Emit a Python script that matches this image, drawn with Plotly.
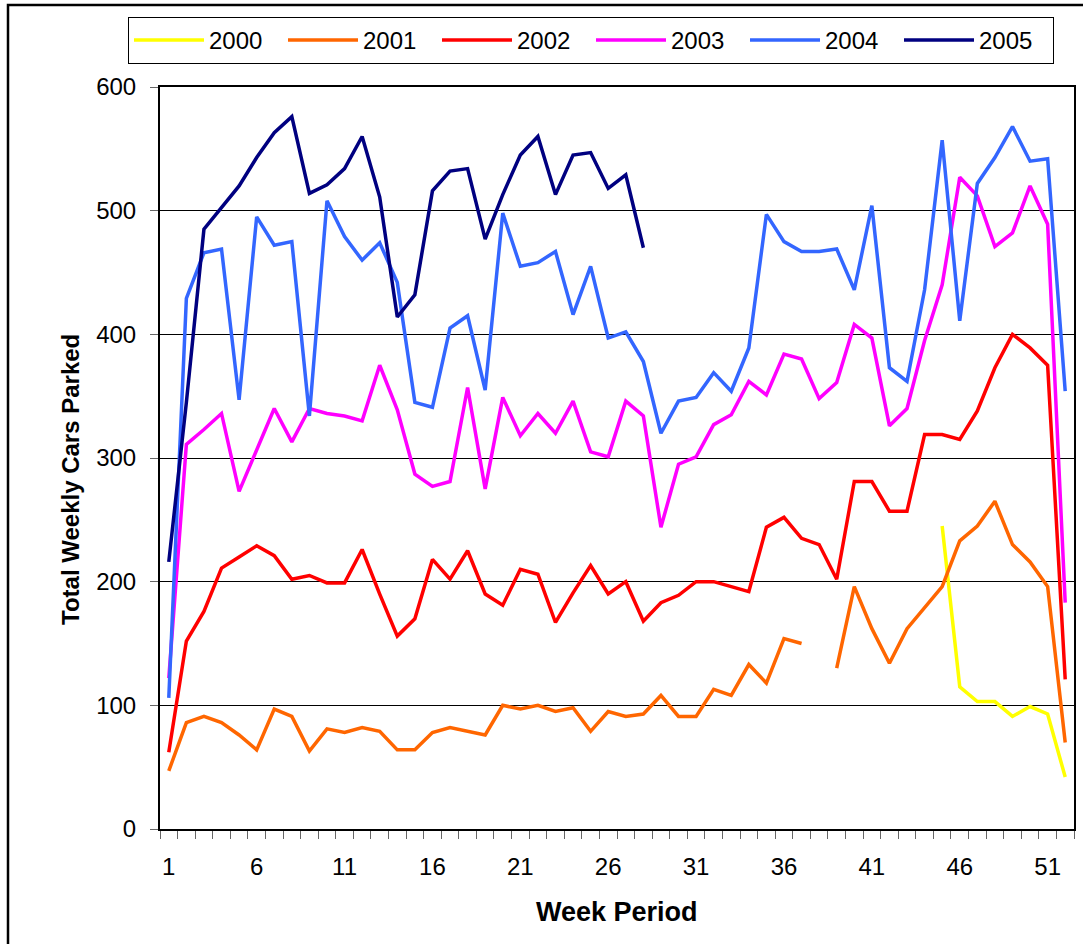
import plotly.graph_objects as go

weeks = list(range(1, 53))
tick_weeks = [1, 6, 11, 16, 21, 26, 31, 36, 41, 46, 51]
years = ["2000", "2001", "2002", "2003", "2004", "2005"]
colors = ["#FFFF00", "#FF6600", "#FF0000", "#FF00FF", "#3366FF", "#000080"]

y2000 = [None] * 44 + [245, 115, 103, 103, 91, 99, 93, 42]
y2001 = [47, 86, 91, 86, 76, 64, 97, 91, 63, 81,
         78, 82, 79, 64, 64, 78, 82, 79, 76, 100,
         97, 100, 95, 98, 79, 95, 91, 93, 108, 91,
         91, 113, 108, 133, 118, 154, 150, None, 130, 196,
         162, 134, 162, 179, 196, 233, 245, 265, 230, 216,
         196, 70]
y2002 = [62, 152, 176, 211, 220, 229, 221, 202, 205, 199,
         199, 226, 190, 156, 170, 218, 202, 225, 190, 181,
         210, 206, 167, 191, 213, 190, 200, 168, 183, 189,
         200, 200, 196, 192, 244, 252, 235, 230, 202, 281,
         281, 257, 257, 319, 319, 315, 338, 373, 400, 389,
         375, 121]
y2003 = [122, 311, 323, 336, 273, 307, 340, 313, 340, 336,
         334, 330, 375, 339, 287, 277, 281, 357, 275, 349,
         318, 336, 320, 346, 305, 301, 346, 334, 244, 295,
         301, 327, 335, 362, 351, 384, 380, 348, 361, 408,
         397, 326, 340, 395, 440, 527, 512, 471, 482, 520,
         489, 183]
y2004 = [106, 429, 466, 469, 347, 495, 472, 475, 334, 508,
         479, 460, 474, 442, 345, 341, 405, 415, 355, 498,
         455, 458, 467, 416, 455, 397, 402, 378, 320, 346,
         349, 369, 354, 389, 497, 475, 467, 467, 469, 436,
         504, 373, 362, 436, 557, 411, 522, 543, 568, 540,
         542, 354]
y2005 = [216, 345, 485, 502, 520, 543, 563, 576, 514, 521,
         534, 560, 511, 414, 432, 516, 532, 534, 477, 513,
         545, 560, 513, 545, 547, 518, 529, 470] + [None] * 24

series = [y2000, y2001, y2002, y2003, y2004, y2005]

FONT = "Liberation Sans, Arial, sans-serif"

fig = go.Figure()
for name, col, ys in zip(years, colors, series):
    fig.add_trace(go.Scatter(x=weeks, y=ys, mode="lines", name=name,
                             line=dict(color=col, width=3.5),
                             connectgaps=False))

W, H = 1083, 944
L, R, T, B = 160, 9, 87, 115
pw = W - L - R
ph = H - T - B

def px_x(p):
    return (p - L) / pw

def px_y(p):
    return (H - B - p) / ph

fig.update_layout(
    width=W, height=H,
    margin=dict(l=L, r=R, t=T, b=B, autoexpand=False),
    paper_bgcolor="white", plot_bgcolor="white",
    font=dict(family=FONT, size=24, color="black"),
    showlegend=True,
    legend=dict(orientation="h", x=px_x(128), y=px_y(17), xanchor="left", yanchor="top",
                bordercolor="black", borderwidth=1, bgcolor="white",
                font=dict(size=24), entrywidth=69, entrywidthmode="pixels",
                itemwidth=70, tracegroupgap=0),
    xaxis=dict(range=[0.5, 52.5], tickmode="array", tickvals=tick_weeks,
               ticktext=[str(t) for t in tick_weeks],
               ticks="outside", ticklen=15, tickcolor="rgba(0,0,0,0)",
               showgrid=False, zeroline=False,
               showline=True, linecolor="black", linewidth=2, mirror=True,
               minor=dict(tickmode="array", tickvals=[w - 0.5 for w in weeks] + [52.5],
                          ticks="outside", ticklen=8, tickcolor="#666", tickwidth=1,
                          showgrid=False)),
    yaxis=dict(range=[0, 600], tickmode="linear", tick0=0, dtick=100,
               ticks="outside", ticklen=8, tickcolor="#666", tickwidth=1,
               showgrid=True, gridcolor="black", gridwidth=1, zeroline=False,
               showline=True, linecolor="black", linewidth=2, mirror=True,
               ticklabelstandoff=9),
    annotations=[
        dict(text="<b>Total Weekly Cars Parked</b>", xref="paper", yref="paper",
             x=px_x(70), y=px_y(480), textangle=-90, showarrow=False,
             font=dict(size=24, family=FONT), xanchor="center", yanchor="middle"),
        dict(text="<b>Week Period</b>", xref="paper", yref="paper",
             x=px_x(617), y=px_y(912), showarrow=False,
             font=dict(size=27, family=FONT), xanchor="center", yanchor="middle"),
    ],
    shapes=[
        dict(type="rect", xref="paper", yref="paper",
             x0=px_x(8), x1=px_x(W + 20), y0=px_y(H + 20), y1=px_y(5),
             line=dict(color="black", width=2.5), fillcolor="rgba(0,0,0,0)",
             layer="below"),
    ],
)

fig.write_html("out.html", config={"displayModeBar": False},
               post_script="document.body.style.margin='0';document.body.style.overflow='hidden';")
